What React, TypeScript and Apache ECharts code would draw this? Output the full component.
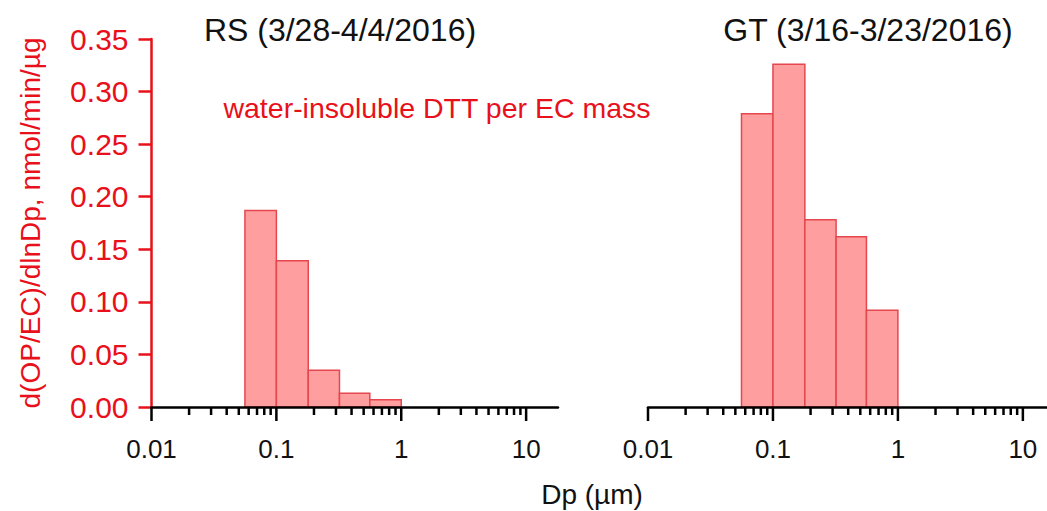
import React, { useEffect, useRef } from "react";
import * as echarts from "echarts";

// ---- data ----
const binEdges = [0.056, 0.1, 0.18, 0.32, 0.56, 1.0];
const rsValues = [0.187, 0.139, 0.035, 0.013, 0.007];
const gtValues = [0.279, 0.326, 0.178, 0.162, 0.092];
const majorTicks = [0.01, 0.1, 1, 10];
const xTickLabels = ["0.01", "0.1", "1", "10"];
const minorTicks = [
  0.02, 0.03, 0.04, 0.05, 0.06, 0.07, 0.08, 0.09,
  0.2, 0.3, 0.4, 0.5, 0.6, 0.7, 0.8, 0.9,
  2, 3, 4, 5, 6, 7, 8, 9,
];
const yTicks = [0, 0.05, 0.1, 0.15, 0.2, 0.25, 0.3, 0.35];
const titles = ["RS (3/28-4/4/2016)", "GT (3/16-3/23/2016)"];
const annotation = "water-insoluble DTT per EC mass";
const xName = "Dp (µm)";
const yName = "d(OP/EC)/dlnDp, nmol/min/µg";
const xMax = [18, 15.6];

const FONT = "'Liberation Sans', Arial, Helvetica, sans-serif";
const RED = "#e8101a";
const BAR_FILL = "#ff9e9e";
const BAR_STROKE = "#e5474f";

function barData(values: number[]) {
  return values.map((v, i) => [binEdges[i], binEdges[i + 1], v]);
}

function barSeries(values: number[], idx: number) {
  return {
    type: "custom",
    xAxisIndex: idx,
    yAxisIndex: idx,
    z: 2,
    data: barData(values),
    renderItem: (params: any, api: any) => {
      const p0 = api.coord([api.value(0), api.value(2)]);
      const p1 = api.coord([api.value(1), 0]);
      return {
        type: "rect",
        shape: { x: p0[0], y: p0[1], width: p1[0] - p0[0], height: p1[1] - p0[1] },
        style: { fill: BAR_FILL, stroke: BAR_STROKE, lineWidth: 1.5 },
      };
    },
  };
}

function tickSeries(values: number[], idx: number, len: number) {
  return {
    type: "custom",
    xAxisIndex: idx,
    yAxisIndex: idx,
    z: 5,
    silent: true,
    clip: false,
    data: values.map((v) => [v, 0]),
    renderItem: (params: any, api: any) => {
      const p = api.coord([api.value(0), 0]);
      return {
        type: "line",
        shape: { x1: p[0], y1: p[1], x2: p[0], y2: p[1] + len },
        style: { stroke: "#000", lineWidth: 2.5 },
      };
    },
  };
}

function xAxis(idx: number) {
  return {
    type: "log",
    logBase: 10,
    gridIndex: idx,
    min: 0.01,
    max: xMax[idx],
    z: 4,
    axisLine: { lineStyle: { color: "#000", width: 2.5 } },
    axisTick: { show: false },
    splitLine: { show: false },
    axisLabel: {
      color: "#111",
      fontSize: 26,
      fontFamily: FONT,
      margin: 29,
      showMaxLabel: false,
      formatter: (v: number) => {
        const l = Math.log10(v);
        const r = Math.round(l);
        if (Math.abs(l - r) > 1e-6) return "";
        const i = majorTicks.findIndex((t) => Math.abs(Math.log10(t) - r) < 1e-6);
        return i >= 0 ? xTickLabels[i] : "";
      },
    },
  };
}

function yAxis(idx: number, show: boolean) {
  return {
    type: "value",
    gridIndex: idx,
    min: yTicks[0],
    max: yTicks[yTicks.length - 1],
    interval: 0.05,
    show,
    z: 3,
    axisLine: { show: true, lineStyle: { color: RED, width: 2.5 } },
    axisTick: { show: true, length: 13, lineStyle: { color: RED, width: 2.5 } },
    splitLine: { show: false },
    axisLabel: {
      color: RED,
      fontSize: 30,
      fontFamily: FONT,
      margin: 23,
      formatter: (v: number) => v.toFixed(2),
    },
  };
}

export default function App() {
  const ref = useRef<HTMLDivElement>(null);
  useEffect(() => {
    if (!ref.current) return;
    const chart = echarts.init(ref.current, null, { renderer: "svg" });
    chart.setOption({
      animation: false,
      backgroundColor: "#fff",
      grid: [
        { left: 151.5, width: 406.5, top: 39, bottom: 104, containLabel: false },
        { left: 648, width: 399, top: 39, bottom: 104, containLabel: false },
      ],
      xAxis: [xAxis(0), xAxis(1)],
      yAxis: [yAxis(0, true), yAxis(1, false)],
      series: [
        barSeries(rsValues, 0),
        barSeries(gtValues, 1),
        tickSeries(majorTicks, 0, 14),
        tickSeries(minorTicks, 0, 8),
        tickSeries(majorTicks, 1, 14),
        tickSeries(minorTicks, 1, 8),
      ],
      graphic: [
        {
          type: "text",
          x: 340,
          y: 30,
          style: {
            text: titles[0],
            fill: "#111",
            font: `32px ${FONT}`,
            align: "center",
            verticalAlign: "middle",
          },
        },
        {
          type: "text",
          x: 868,
          y: 30,
          style: {
            text: titles[1],
            fill: "#111",
            font: `32px ${FONT}`,
            align: "center",
            verticalAlign: "middle",
          },
        },
        {
          type: "text",
          x: 437,
          y: 108,
          style: {
            text: annotation,
            fill: RED,
            font: `28.5px ${FONT}`,
            align: "center",
            verticalAlign: "middle",
          },
        },
        {
          type: "text",
          x: 592,
          y: 494,
          style: {
            text: xName,
            fill: "#111",
            font: `28px ${FONT}`,
            align: "center",
            verticalAlign: "middle",
          },
        },
        {
          type: "text",
          x: 30,
          y: 223,
          rotation: Math.PI / 2,
          style: {
            text: yName,
            fill: RED,
            font: `28px ${FONT}`,
            align: "center",
            verticalAlign: "middle",
          },
        },
      ],
    });
    return () => chart.dispose();
  }, []);
  return (
    <div
      ref={ref}
      style={{ position: "absolute", left: 0, top: 0, width: 1047, height: 511 }}
    />
  );
}
